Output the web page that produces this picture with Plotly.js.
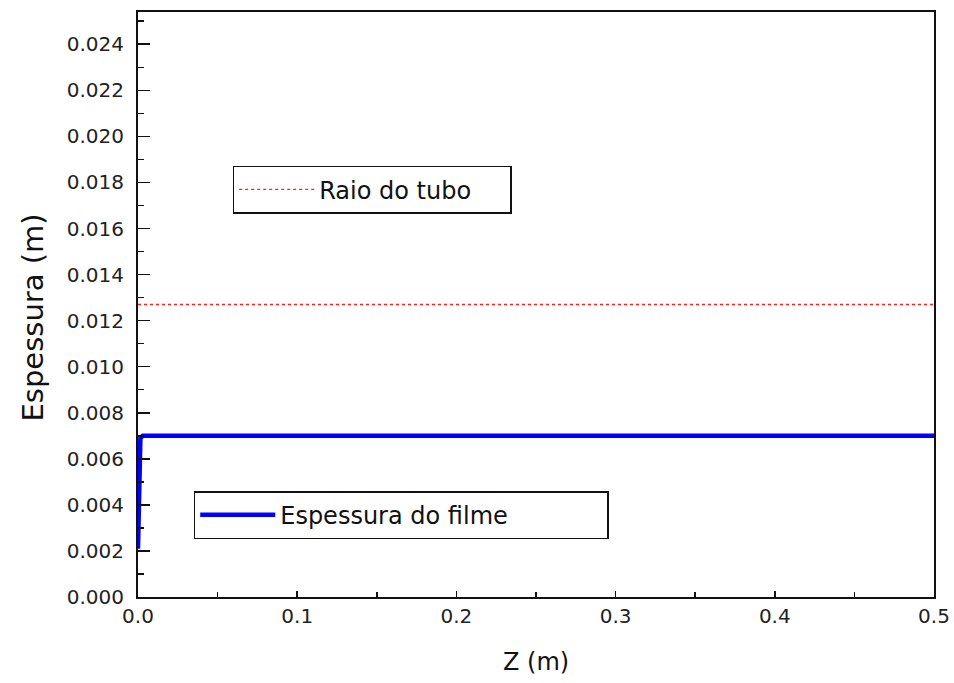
<!DOCTYPE html>
<html><head><meta charset="utf-8">
<script src="https://cdn.plot.ly/plotly-3.0.1.min.js"></script>
<style>html,body{margin:0;padding:0;background:#fff}</style>
</head><body><div id="chart" style="width:954px;height:683px"></div>
<script>
var zFilm = [0, 0.0002, 0.0004, 0.0006, 0.0008, 0.001, 0.0015, 0.003, 0.006, 0.012, 0.02, 0.1, 0.2, 0.3, 0.4, 0.5];
var filmThickness = [0.0021, 0.0033, 0.0045, 0.0056, 0.0064, 0.0067, 0.0069, 0.0070, 0.0070, 0.0070, 0.0070, 0.0070, 0.0070, 0.0070, 0.0070, 0.0070];
var zTube = [0, 0.5];
var tubeRadius = [0.0127, 0.0127];
var yTickVals = [0,0.002,0.004,0.006,0.008,0.010,0.012,0.014,0.016,0.018,0.020,0.022,0.024];
var xTickVals = [0,0.1,0.2,0.3,0.4,0.5];
var xTitle = 'Z (m)';
var yTitle = 'Espessura (m)';

var font = 'DejaVu Sans, sans-serif';
var traces = [
 {x: zTube, y: tubeRadius, mode:'lines', name:'Raio do tubo', legend:'legend',
  line:{color:'#ff2020', width:1.3, dash:'dot'}},
 {x: zFilm, y: filmThickness, mode:'lines', name:'Espessura do filme', legend:'legend2',
  line:{color:'#0000ff', width:4.5}}
];
var axisCommon = {showline:true, linecolor:'#111', linewidth:2, mirror:true, ticks:'inside',
  tickcolor:'#111', tickwidth:1.5, showgrid:false, zeroline:false,
  tickfont:{family:font, size:20, color:'#222'}};
var layout = {
  width:954, height:683, paper_bgcolor:'#fff', plot_bgcolor:'#fff',
  margin:{l:138, r:20, t:12, b:86},
  showlegend:true,
  xaxis: Object.assign({}, axisCommon, {range:[0,0.5], tickvals:xTickVals, ticktext:xTickVals.map(v=>v.toFixed(1)),
    ticklen:6, minor:{dtick:0.05, ticks:'inside', ticklen:5, tickcolor:'#111'}}),
  yaxis: Object.assign({}, axisCommon, {range:[0,0.0254], tickvals:yTickVals, ticktext:yTickVals.map(v=>v.toFixed(3)),
    ticklen:12, minor:{dtick:0.001, ticks:'inside', ticklen:6, tickcolor:'#111'}, ticklabelstandoff:8}),
  annotations:[
    {text:xTitle, xref:'paper', yref:'paper', x:0.5, y:-0.111, xanchor:'center', yanchor:'middle',
     showarrow:false, font:{family:font, size:24, color:'#111'}},
    {text:yTitle, xref:'paper', yref:'paper', x:-0.1319, y:0.4778, xanchor:'center', yanchor:'middle',
     textangle:-90, showarrow:false, font:{family:font, size:29, color:'#111'}}
  ],
  legend:{x:0.119, y:0.737, xanchor:'left', yanchor:'top', bordercolor:'#111', borderwidth:1.5,
    bgcolor:'#fff', font:{family:font, size:24, color:'#111'}, orientation:'h', itemwidth:75,
    entrywidth:186},
  legend2:{x:0.070, y:0.181, xanchor:'left', yanchor:'top', bordercolor:'#111', borderwidth:1.5,
    bgcolor:'#fff', font:{family:font, size:24, color:'#111'}, orientation:'h', itemwidth:75,
    entrywidth:322}
};
Plotly.newPlot('chart', traces, layout, {staticPlot:true});
</script></body></html>
